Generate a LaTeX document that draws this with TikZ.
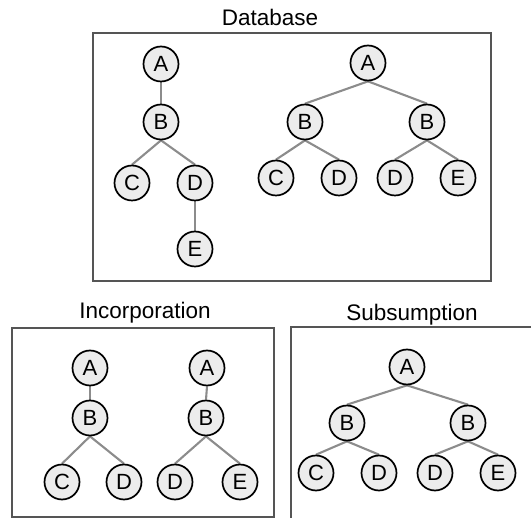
\documentclass[tikz,border=0pt]{standalone}
\usepackage{fontspec}
\setmainfont{Liberation Sans}
\usetikzlibrary{backgrounds}
\definecolor{trframe}{HTML}{555555}
\definecolor{trlink}{HTML}{8C8C8C}
\definecolor{trfill}{HTML}{ECECEC}
\tikzset{
  tnode/.style={circle,draw=black,line width=1.7pt,fill=trfill,minimum size=35pt,
    inner sep=0pt,font=\fontsize{22}{22}\selectfont},
  tlink/.style={draw=trlink,line width=2.1pt},
  tframe/.style={draw=trframe,line width=1.1pt},
  ttitle/.style={anchor=base,font=\fontsize{22.5}{22.5}\selectfont}
}

\begin{document}
\begin{tikzpicture}[x=1pt,y=-1pt]
  \useasboundingbox (0,0) rectangle (531,518);

  % database
  \node[ttitle] (dbtitle) at (270,26) {Database};
  \draw[tframe] (93,33) rectangle (491,281);
  \node[tnode] (dA) at (161,64) {A};
  \node[tnode] (dB) at (161,122) {B};
  \node[tnode] (dC) at (132,183) {C};
  \node[tnode] (dD) at (195,183) {D};
  \node[tnode] (dE) at (195,249) {E};
  \node[tnode] (rA) at (368,63) {A};
  \node[tnode] (rB) at (305,122) {B};
  \node[tnode] (rBB) at (427,122) {B};
  \node[tnode] (rC) at (276,178) {C};
  \node[tnode] (rD) at (339,178) {D};
  \node[tnode] (rDD) at (395,178) {D};
  \node[tnode] (rE) at (458,178) {E};

  % incorporation
  \node[ttitle] (inctitle) at (145,319) {Incorporation};
  \draw[tframe] (12,328) rectangle (274,517);
  \node[tnode] (iA) at (90,368) {A};
  \node[tnode] (iB) at (90,418) {B};
  \node[tnode] (iC) at (62,482) {C};
  \node[tnode] (iD) at (124,482) {D};
  \node[tnode] (jA) at (207,368) {A};
  \node[tnode] (jB) at (206,418) {B};
  \node[tnode] (jD) at (175,482) {D};
  \node[tnode] (jE) at (240,482) {E};

  % subsumption (frame runs off the page)
  \node[ttitle] (subtitle) at (412,321) {Subsumption};
  \draw[tframe] (291,519) |- (532,327);
  \node[tnode] (sA) at (407,367) {A};
  \node[tnode] (sB) at (347,423) {B};
  \node[tnode] (sBB) at (468,423) {B};
  \node[tnode] (sC) at (316,473) {C};
  \node[tnode] (sD) at (379,473) {D};
  \node[tnode] (sDD) at (435,473) {D};
  \node[tnode] (sE) at (498,473) {E};

  \begin{scope}[on background layer]
    \foreach \p/\c in {dA/dB,dB/dC,dB/dD,dD/dE,
                       rA/rB,rA/rBB,rB/rC,rB/rD,rBB/rDD,rBB/rE,
                       iA/iB,iB/iC,iB/iD,jA/jB,jB/jD,jB/jE,
                       sA/sB,sA/sBB,sB/sC,sB/sD,sBB/sDD,sBB/sE}
      \draw[tlink] (\p.south) -- (\c.north);
  \end{scope}
\end{tikzpicture}
\end{document}
